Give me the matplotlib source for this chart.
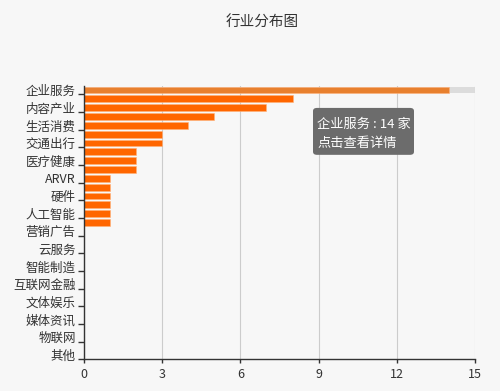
import numpy as np
import matplotlib.pyplot as plt
from matplotlib.patches import FancyBboxPatch

plt.rcParams['font.family'] = ['Noto Sans CJK SC', 'DejaVu Sans']

# categories (echarts only shows every other label)
categories = ['企业服务', '电子商务', '内容产业', '教育', '生活消费', '旅游',
              '交通出行', '物流', '医疗健康', '房产家居', 'ARVR', '社交',
              '硬件', '游戏', '人工智能', '新能源', '营销广告', '区块链',
              '云服务', '农业', '智能制造', '工具软件', '互联网金融', '信息安全',
              '文体娱乐', '体育', '媒体资讯', '招聘', '物联网', '机器人', '其他']
counts = [14, 8, 7, 5, 4, 3, 3, 2, 2, 2, 1, 1, 1, 1, 1, 1,
          0, 0, 0, 0, 0, 0, 0, 0, 0, 0, 0, 0, 0, 0, 0]
xticks = [0, 3, 6, 9, 12, 15]
highlight = 0

bg = '#f7f7f7'
fig = plt.figure(figsize=(5, 3.91), dpi=100, facecolor=bg)
ax = fig.add_axes([0.168, 0.081, 0.782, 0.700])
ax.set_facecolor(bg)

y = np.arange(len(categories))
colors = ['#ff6600'] * len(categories)
colors[highlight] = '#e8802e'
# hover shadow behind the highlighted bar
ax.barh(y[highlight], xticks[-1], height=0.78, color='#dcdcdc', zorder=1)
ax.barh(y, counts, height=0.78, color=colors, edgecolor='#ffb27a',
        linewidth=0.4, zorder=2)

ax.set_xlim(0, 15)
ax.set_ylim(len(categories) - 0.5, -0.5)
ax.set_xticks(xticks)
ax.set_xticklabels([str(v) for v in xticks], fontsize=9, color='#333333')
ax.set_yticks(y[::2])
ax.set_yticklabels(categories[::2], fontsize=9, color='#333333')
# tick marks sit on the band boundary below each shown label
ax.set_yticks(y[::2] + 0.5, minor=True)
ax.tick_params(axis='y', which='major', length=0, pad=6)
ax.tick_params(axis='y', which='minor', length=4, width=1, color='#333333')
ax.tick_params(axis='x', length=3, width=1, color='#333333', pad=3)
ax.grid(axis='x', color='#cccccc', linewidth=0.8, zorder=0)
for s in ['top', 'right']:
    ax.spines[s].set_visible(False)
for s in ['left', 'bottom']:
    ax.spines[s].set_color('#333333')
    ax.spines[s].set_linewidth(1)

fig.text(0.524, 0.943, '行业分布图', ha='center', va='center',
         fontsize=10.5, color='#333333')

# tooltip
box = FancyBboxPatch((0.626, 0.604), 0.202, 0.120,
                     boxstyle='round,pad=0,rounding_size=0.008',
                     transform=fig.transFigure, facecolor='#6c6c6c',
                     edgecolor='none', zorder=5)
fig.patches.append(box)
fig.text(0.634, 0.683, f'{categories[highlight]} : {counts[highlight]} 家',
         fontsize=9.5, color='white', va='center', zorder=6)
fig.text(0.634, 0.634, '点击查看详情', fontsize=9.5, color='white',
         va='center', zorder=6)

plt.savefig('out.png', dpi=100, facecolor=bg)
